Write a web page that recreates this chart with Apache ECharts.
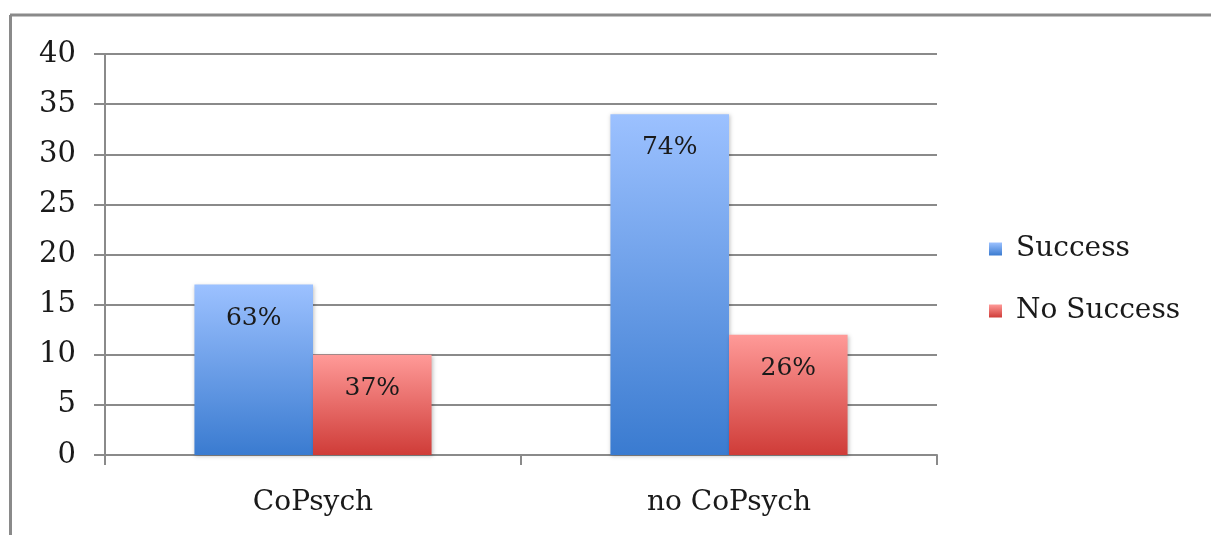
<!DOCTYPE html>
<html>
<head>
<meta charset="utf-8">
<script src="https://cdn.jsdelivr.net/npm/echarts@6/dist/echarts.min.js"></script>
<style>html,body{margin:0;padding:0;background:#fff;}#c{width:1211px;height:535px;}</style>
</head>
<body>
<div id="c"></div>
<script>
const categories = ['CoPsych', 'no CoPsych'];
const successValues = [17, 34];
const noSuccessValues = [10, 12];
const successLabels = ['63%', '74%'];
const noSuccessLabels = ['37%', '26%'];
const yTicks = [0, 5, 10, 15, 20, 25, 30, 35, 40];

const chart = echarts.init(document.getElementById('c'));
const FONT = 'DejaVu Serif';
function grad(top, bottom) {
  return new echarts.graphic.LinearGradient(0, 0, 0, 1, [
    { offset: 0, color: top }, { offset: 1, color: bottom }
  ]);
}
chart.setOption({
  animation: false,
  backgroundColor: '#fff',
  graphic: [
    { type: 'line', shape: { x1: 10, y1: 15, x2: 1211, y2: 15 }, style: { stroke: '#8a8a8a', lineWidth: 3 } },
    { type: 'line', shape: { x1: 10.5, y1: 15, x2: 10.5, y2: 535 }, style: { stroke: '#8a8a8a', lineWidth: 3 } }
  ],
  grid: { left: 105, right: 274, top: 54, bottom: 80 },
  legend: {
    orient: 'vertical',
    left: 984,
    top: 230,
    itemWidth: 13,
    itemHeight: 13,
    itemGap: 34,
    icon: 'rect',
    textStyle: { fontFamily: FONT, fontSize: 28, color: '#1a1a1a', padding: [0, 0, 0, 9] },
    data: ['Success', 'No Success']
  },
  xAxis: {
    type: 'category',
    data: categories,
    axisLine: { lineStyle: { color: '#8a8a8a', width: 2 } },
    axisTick: { show: true, length: 10, lineStyle: { color: '#8a8a8a', width: 2 } },
    axisLabel: { fontFamily: FONT, fontSize: 28, color: '#1a1a1a', margin: 34 }
  },
  yAxis: {
    type: 'value',
    min: yTicks[0],
    max: yTicks[yTicks.length - 1],
    interval: 5,
    axisLine: { show: true, lineStyle: { color: '#8a8a8a', width: 2 } },
    axisTick: { show: true, length: 11, lineStyle: { color: '#8a8a8a', width: 2 } },
    axisLabel: { fontFamily: FONT, fontSize: 29, color: '#1a1a1a', margin: 29 },
    splitLine: { lineStyle: { color: '#8a8a8a', width: 2 } }
  },
  series: [
    {
      name: 'Success',
      type: 'bar',
      data: successValues,
      barGap: '0%',
      barCategoryGap: '43%',
      itemStyle: { color: grad('#9cc1ff', '#3a7bd0'), shadowColor: 'rgba(0,0,0,0.25)', shadowBlur: 4, shadowOffsetX: 1, shadowOffsetY: 1 },
      label: {
        show: true, position: 'insideTop', distance: 21,
        fontFamily: FONT, fontSize: 25, color: '#1a1a1a',
        formatter: p => successLabels[p.dataIndex]
      }
    },
    {
      name: 'No Success',
      type: 'bar',
      data: noSuccessValues,
      itemStyle: { color: grad('#ff9a98', '#cf3c38'), shadowColor: 'rgba(0,0,0,0.25)', shadowBlur: 4, shadowOffsetX: 1, shadowOffsetY: 1 },
      label: {
        show: true, position: 'insideTop', distance: 21,
        fontFamily: FONT, fontSize: 25, color: '#1a1a1a',
        formatter: p => noSuccessLabels[p.dataIndex]
      }
    }
  ]
});
</script>
</body>
</html>
